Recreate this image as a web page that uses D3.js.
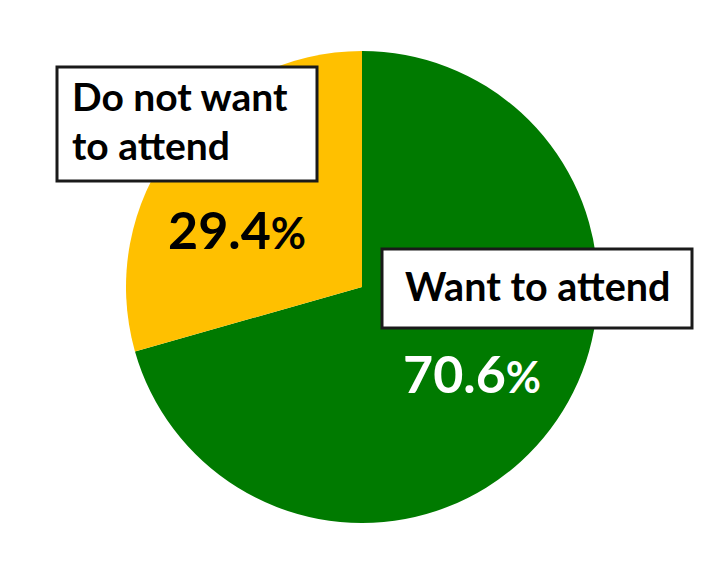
<!DOCTYPE html>
<html>
<head>
<meta charset="utf-8">
<script src="https://cdn.jsdelivr.net/npm/d3@7"></script>
<style>
  body { margin: 0; background: #fff; }
  svg text { font-family: Lato, "Open Sans", sans-serif; font-weight: bold; }
</style>
</head>
<body>
<div id="chart"></div>
<script>
// data
var categories = ['Want to attend', 'Do not want to attend'];
var values = [70.6, 29.4];
var colors = ['#007A00', '#FFC000'];

var width = 719,
    height = 568;

var cx = 362, cy = 287, radius = 236;

var svg = d3.select('#chart').append('svg')
    .attr('width', width)
    .attr('height', height);

var pie = d3.pie()
    .sort(null)
    .value(function (d) { return d; });

var arc = d3.arc()
    .innerRadius(0)
    .outerRadius(radius);

var g = svg.append('g')
    .attr('transform', 'translate(' + cx + ',' + cy + ')');

g.selectAll('path')
    .data(pie(values))
  .enter().append('path')
    .attr('d', arc)
    .attr('fill', function (d, i) { return colors[i]; });

//percent labels (digits large, % a bit smaller)
var pctLabels = [
  {x: 403, y: 393, fill: '#fff'},
  {x: 168, y: 249, fill: '#000'}
];

values.forEach(function (v, i) {
  var t = svg.append('text')
      .attr('x', pctLabels[i].x)
      .attr('y', pctLabels[i].y)
      .attr('fill', pctLabels[i].fill)
      .style('font-size', '52px');
  t.append('tspan').text(d3.format('.1f')(v));
  t.append('tspan').style('font-size', '43px').text('%');
});

//category boxes
var boxes = [
  {x: 382, y: 249, w: 310, h: 79, lines: ['Want to attend'], tx: 405, ty: 301, size: 39.5},
  {x: 57, y: 67, w: 260, h: 114, lines: ['Do not want', 'to attend'], tx: 72, ty: 111, size: 39}
];

boxes.forEach(function (b) {
  svg.append('rect')
      .attr('x', b.x)
      .attr('y', b.y)
      .attr('width', b.w)
      .attr('height', b.h)
      .attr('fill', '#fff')
      .attr('stroke', '#1a1a1a')
      .attr('stroke-width', 3);

  var t = svg.append('text')
      .attr('x', b.tx)
      .attr('y', b.ty)
      .attr('fill', '#000')
      .style('font-size', b.size + 'px');

  b.lines.forEach(function (line, j) {
    t.append('tspan')
        .attr('x', b.tx)
        .attr('dy', j === 0 ? 0 : 49)
        .text(line);
  });
});
</script>
</body>
</html>
